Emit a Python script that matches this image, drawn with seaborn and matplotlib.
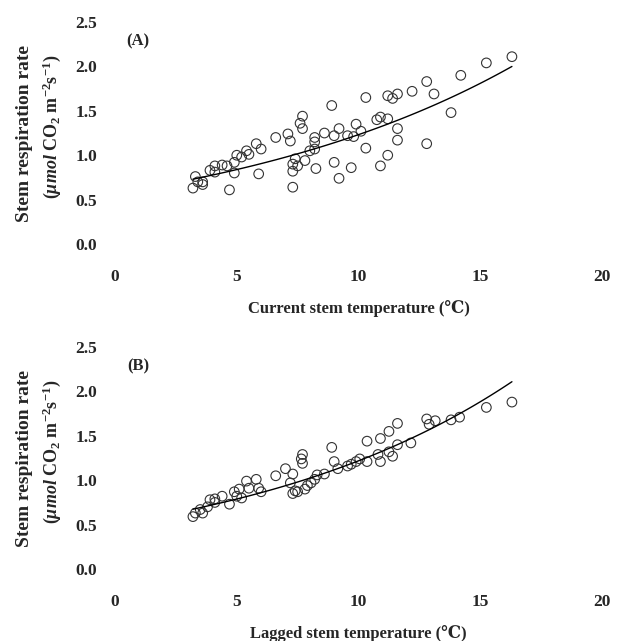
import numpy as np
import matplotlib
matplotlib.use("Agg")
import matplotlib.pyplot as plt
import matplotlib.transforms as mtransforms
import seaborn as sns
import pandas as pd

# Panel A: current stem temperature vs stem respiration
temp_a = [3.2, 3.3, 3.4, 3.6, 3.6, 3.9, 4.1, 4.1, 4.4, 4.6, 4.7, 4.9, 4.9, 5.0, 5.2,
          5.4, 5.5, 5.8, 5.9, 6.0, 6.6, 7.1, 7.2, 7.3, 7.3, 7.3, 7.4, 7.5, 7.6, 7.7,
          7.7, 7.8, 8.0, 8.2, 8.2, 8.2, 8.25, 8.6, 8.9, 9.0, 9.0, 9.2, 9.2, 9.55, 9.7,
          9.8, 9.9, 10.1, 10.3, 10.3, 10.75, 10.9, 10.9, 11.2, 11.2, 11.2, 11.4, 11.6,
          11.6, 11.6, 12.2, 12.8, 12.8, 13.1, 13.8, 14.2, 15.25, 16.3]
resp_a = [0.63, 0.76, 0.70, 0.67, 0.70, 0.83, 0.88, 0.81, 0.89, 0.88, 0.61, 0.92, 0.80,
          1.00, 0.98, 1.05, 1.01, 1.13, 0.79, 1.07, 1.20, 1.24, 1.16, 0.90, 0.82, 0.64,
          0.96, 0.88, 1.36, 1.44, 1.30, 0.94, 1.05, 1.15, 1.20, 1.07, 0.85, 1.25, 1.56,
          1.22, 0.92, 1.30, 0.74, 1.22, 0.86, 1.21, 1.35, 1.27, 1.65, 1.08, 1.40, 1.43,
          0.88, 1.00, 1.41, 1.67, 1.64, 1.30, 1.17, 1.69, 1.72, 1.83, 1.13, 1.69, 1.48,
          1.90, 2.04, 2.11]

# Panel B: lagged stem temperature vs stem respiration
temp_b = [3.2, 3.3, 3.5, 3.6, 3.8, 3.9, 4.1, 4.1, 4.4, 4.7, 4.9, 5.0, 5.1, 5.2, 5.4,
          5.5, 5.8, 5.9, 6.0, 6.6, 7.0, 7.2, 7.3, 7.3, 7.4, 7.5, 7.65, 7.7, 7.7, 7.8,
          7.9, 8.05, 8.2, 8.3, 8.6, 8.9, 9.0, 9.15, 9.55, 9.7, 9.9, 10.05, 10.35, 10.35,
          10.8, 10.9, 10.9, 11.25, 11.25, 11.4, 11.6, 11.6, 12.15, 12.8, 12.9, 13.15,
          13.8, 14.15, 15.25, 16.3]
resp_b = [0.59, 0.63, 0.67, 0.63, 0.70, 0.78, 0.79, 0.75, 0.82, 0.73, 0.87, 0.82, 0.90,
          0.80, 0.99, 0.91, 1.01, 0.91, 0.87, 1.05, 1.13, 0.97, 1.07, 0.85, 0.88, 0.87,
          1.24, 1.29, 1.19, 0.90, 0.94, 0.97, 1.01, 1.06, 1.07, 1.37, 1.21, 1.13, 1.16,
          1.18, 1.21, 1.24, 1.44, 1.21, 1.29, 1.21, 1.47, 1.55, 1.32, 1.27, 1.40, 1.64,
          1.42, 1.69, 1.63, 1.67, 1.68, 1.71, 1.82, 1.88]

# exponential fit parameters R = a * exp(b * T)
fit_a = (0.571, 0.0769)
fit_b = (0.510, 0.0871)

x_ticks = [0, 5, 10, 15, 20]
y_ticks = [0.0, 0.5, 1.0, 1.5, 2.0, 2.5]

sns.set_style("white")
plt.rcParams["font.family"] = ["Liberation Serif", "DejaVu Serif"]
plt.rcParams["font.weight"] = "bold"
plt.rcParams["mathtext.fontset"] = "custom"
plt.rcParams["mathtext.rm"] = "Liberation Serif:bold"
plt.rcParams["mathtext.it"] = "Liberation Serif:italic:bold"
plt.rcParams["mathtext.bf"] = "Liberation Serif:bold"

fig = plt.figure(figsize=(6.2, 6.41), dpi=100)
ax_a = fig.add_axes([0.1855, 0.6193, 0.7855, 0.3463])
ax_b = fig.add_axes([0.1855, 0.1123, 0.7855, 0.3463])

panels = [
    (ax_a, temp_a, resp_a, fit_a, "(A)", "Current stem temperature (\u2103)"),
    (ax_b, temp_b, resp_b, fit_b, "(B)", "Lagged stem temperature (\u2103)"),
]

for ax, temp, resp, (a, b), tag, xlabel in panels:
    df = pd.DataFrame({"T": temp, "R": resp})
    sns.scatterplot(data=df, x="T", y="R", ax=ax, marker="o", s=48,
                    facecolor="none", edgecolor="#333333", linewidth=0.8)
    t_fit = np.linspace(min(temp), max(temp), 100)
    curve = pd.DataFrame({"T": t_fit, "R": a * np.exp(b * t_fit)})
    sns.lineplot(data=curve, x="T", y="R", ax=ax, color="black", linewidth=1.0)

    ax.set_xlim(0, 20)
    ax.set_ylim(0, 2.5)
    ax.set_xticks(x_ticks)
    ax.set_yticks(y_ticks)
    ax.set_yticklabels([f"{v:.1f}" for v in y_ticks])
    ax.tick_params(axis="both", length=0, labelsize=12.5)
    ax.tick_params(axis="x", pad=18)
    ax.tick_params(axis="y", pad=13)
    for lab in ax.get_xticklabels() + ax.get_yticklabels():
        lab.set_fontweight("bold")
    sns.despine(ax=ax, left=True, bottom=True)

    ax.set_xlabel(xlabel, fontsize=12, fontweight="bold", labelpad=11)
    ax.set_ylabel("")
    trans = mtransforms.blended_transform_factory(fig.transFigure, ax.transAxes)
    ax.text(0.040, 0.50, "Stem respiration rate", transform=trans, rotation=90,
            fontsize=14, fontweight="bold", ha="center", va="center")
    ax.text(0.084, 0.53, r"($\mathit{\mu mol}$ CO$_2$ m$^{-2}$s$^{-1}$)",
            transform=trans, rotation=90, fontsize=13, fontweight="bold",
            ha="center", va="center")
    ax.text(0.047, 0.915, tag, transform=ax.transAxes, fontsize=12,
            fontweight="bold", ha="center", va="center")

fig.savefig("out.png", dpi=100)
